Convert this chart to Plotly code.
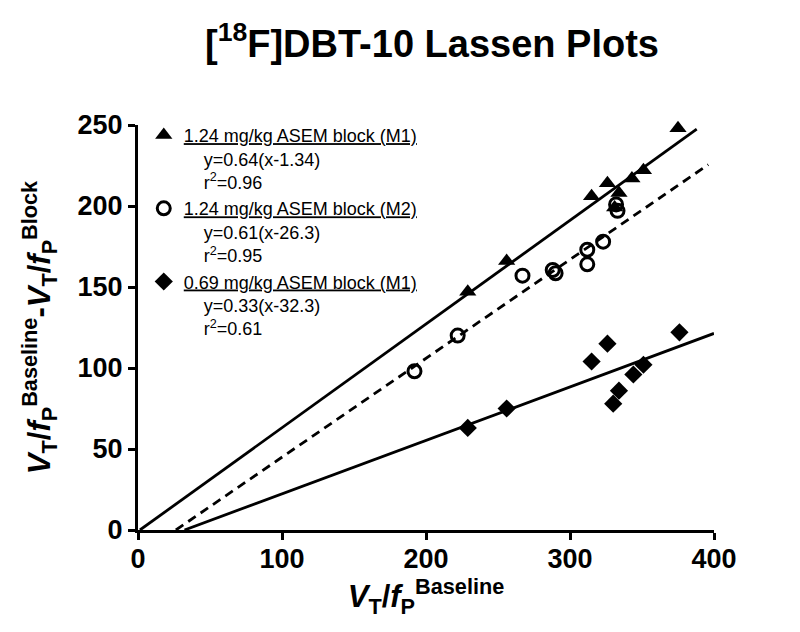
import plotly.graph_objects as go

# ---- data ----
m1_high_x = [229, 256, 315, 326, 331, 334, 343, 351, 375]
m1_high_y = [147, 166, 206, 214, 199, 208, 217, 222, 248]

m2_high_x = [192, 222, 267, 288, 290, 312, 312, 323, 332, 333]
m2_high_y = [98, 120, 157, 160.5, 158.5, 173, 164, 178, 201, 197]

m1_low_x = [229, 256, 315, 326, 330, 334, 344, 351, 376]
m1_low_y = [63, 75, 104, 115, 78, 86, 96, 102, 122]

series_names = [
    "1.24 mg/kg ASEM block (M1)",
    "1.24 mg/kg ASEM block (M2)",
    "0.69 mg/kg ASEM block (M1)",
]
fit_slope = [0.64, 0.61, 0.33]
fit_xint = [1.34, 26.3, 32.3]
fit_r2 = ["0.96", "0.95", "0.61"]
fit_x_end = [388, 396, 400]
fit_dash = ["solid", "dash", "solid"]

x_ticks = [0, 100, 200, 300, 400]
y_ticks = [0, 50, 100, 150, 200, 250]

FONT = "Arial, Liberation Sans, sans-serif"

fig = go.Figure()

# fit lines
for s, xi, xe, d in zip(fit_slope, fit_xint, fit_x_end, fit_dash):
    xs = [xi, xe]
    ys = [s * (x - xi) for x in xs]
    fig.add_trace(go.Scatter(x=xs, y=ys, mode="lines", showlegend=False,
                             line=dict(color="black", width=2.8, dash=d if d == "solid" else "9px,6px"),
                             hoverinfo="skip", cliponaxis=False))

sp = "\u00a0" * 4
def legend_text(i):
    return (f"<u>{series_names[i]}</u><br>{sp}y={fit_slope[i]}(x-{fit_xint[i]})"
            f"<br>{sp}r<sup>2</sup>={fit_r2[i]}")

fig.add_trace(go.Scatter(x=m1_high_x, y=m1_high_y, mode="markers", name=legend_text(0),
                         marker=dict(symbol="triangle-up", size=15, color="black"),
                         cliponaxis=False))
fig.add_trace(go.Scatter(x=m2_high_x, y=m2_high_y, mode="markers", name=legend_text(1),
                         marker=dict(symbol="circle-open", size=13, color="black",
                                     line=dict(width=3, color="black")),
                         cliponaxis=False))
fig.add_trace(go.Scatter(x=m1_low_x, y=m1_low_y, mode="markers", name=legend_text(2),
                         marker=dict(symbol="diamond", size=14, color="black"),
                         cliponaxis=False))

fig.update_layout(
    width=800, height=632,
    margin=dict(l=130, r=94, t=117, b=110, autoexpand=False),
    paper_bgcolor="white", plot_bgcolor="white",
    font=dict(family=FONT, color="black"),
    title=dict(text="<b>[<sup>18</sup>F]DBT-10 Lassen Plots</b>",
               x=0.53, xanchor="center", y=0.943, yanchor="middle",
               font=dict(size=38, family=FONT, color="black")),
    showlegend=True,
    legend=dict(x=0.01, y=1.02, xanchor="left", yanchor="top",
                bgcolor="rgba(0,0,0,0)", valign="top", tracegroupgap=0,
                font=dict(size=18, family=FONT, color="black")),
)

fig.update_xaxes(range=[0, 400], tickvals=x_ticks, ticktext=[str(v) for v in x_ticks],
                 showgrid=False, zeroline=False, showline=True, linecolor="black", linewidth=3,
                 ticks="outside", ticklen=7, tickwidth=3, tickcolor="black",
                 ticklabelstandoff=-4,
                 tickfont=dict(size=27, family=FONT, color="black", weight="bold"),
                 title=dict(text="<b><i>V</i><sub>T</sub>/<i>f</i><sub>P</sub><sup>Baseline</sup></b>",
                            font=dict(size=31, family=FONT, color="black"), standoff=6))
fig.update_yaxes(range=[0, 250], tickvals=y_ticks, ticktext=[str(v) for v in y_ticks],
                 showgrid=False, zeroline=False, showline=True, linecolor="black", linewidth=3,
                 ticks="outside", ticklen=7, tickwidth=3, tickcolor="black",
                 tickfont=dict(size=27, family=FONT, color="black", weight="bold"),
                 title=dict(text="<b><i>V</i><sub>T</sub>/<i>f</i><sub>P</sub><sup>Baseline</sup>-<i>V</i><sub>T</sub>/<i>f</i><sub>P</sub><sup>Block</sup></b>",
                            font=dict(size=31, family=FONT, color="black"), standoff=18))

fig.write_html("out.html")
